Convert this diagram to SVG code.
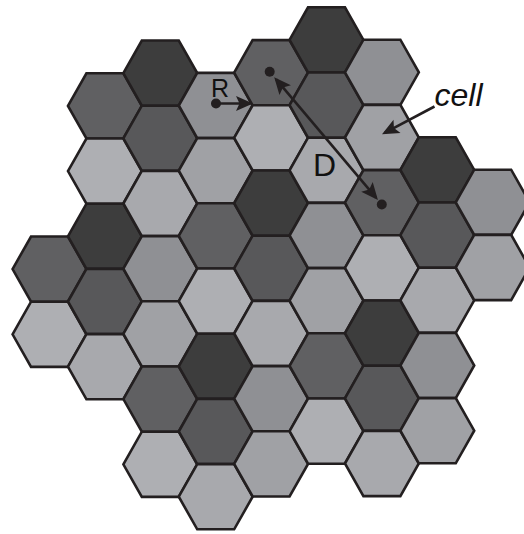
<svg xmlns="http://www.w3.org/2000/svg" xmlns:xlink="http://www.w3.org/1999/xlink" width="524" height="534" viewBox="0 0 524 534">
<style>
.hx{stroke:#231f20;stroke-width:2.6;stroke-linejoin:miter}
.c0{fill:#a8a9ad}.c1{fill:#606062}.c2{fill:#58585a}.c3{fill:#a0a1a5}.c4{fill:#3d3d3d}.c5{fill:#8f9094}.c6{fill:#aeafb3}
.ln{stroke:#231f20;stroke-width:2.6;fill:none}
.dot{fill:#231f20}
.lbl{font-family:"Liberation Sans",Arial,Helvetica,sans-serif;fill:#111}
</style>
<defs>
<polygon id="hex" points="-36.93,0 -18.47,-32.6 18.47,-32.6 36.93,0 18.47,32.6 -18.47,32.6"/>
<marker id="ah" viewBox="-20 -10 22 20" refX="-3" refY="0" markerWidth="22" markerHeight="20" markerUnits="userSpaceOnUse" orient="auto-start-reverse">
<path d="M0,0 L-17,-7.5 L-13.5,0 L-17,7.5 Z" fill="#231f20"/>
</marker>
</defs>
<g id="cells">
<use id="h0-6" href="#hex" class="hx c1" x="49.5" y="269.1"/>
<use id="h0-8" href="#hex" class="hx c6" x="49.5" y="334.3"/>
<use id="h1-1" href="#hex" class="hx c1" x="104.9" y="105.9"/>
<use id="h1-3" href="#hex" class="hx c6" x="104.9" y="171.1"/>
<use id="h1-5" href="#hex" class="hx c4" x="104.9" y="236.3"/>
<use id="h1-7" href="#hex" class="hx c2" x="104.9" y="301.5"/>
<use id="h1-9" href="#hex" class="hx c0" x="104.9" y="366.7"/>
<use id="h2-0" href="#hex" class="hx c4" x="160.3" y="73.1"/>
<use id="h2-2" href="#hex" class="hx c2" x="160.3" y="138.3"/>
<use id="h2-4" href="#hex" class="hx c0" x="160.3" y="203.5"/>
<use id="h2-6" href="#hex" class="hx c5" x="160.3" y="268.7"/>
<use id="h2-8" href="#hex" class="hx c3" x="160.3" y="333.9"/>
<use id="h2-10" href="#hex" class="hx c1" x="160.3" y="399.1"/>
<use id="h2-12" href="#hex" class="hx c6" x="160.3" y="464.3"/>
<use id="h3-1" href="#hex" class="hx c5" x="215.7" y="105.5"/>
<use id="h3-3" href="#hex" class="hx c3" x="215.7" y="170.7"/>
<use id="h3-5" href="#hex" class="hx c1" x="215.7" y="235.9"/>
<use id="h3-7" href="#hex" class="hx c6" x="215.7" y="301.1"/>
<use id="h3-9" href="#hex" class="hx c4" x="215.7" y="366.3"/>
<use id="h3-11" href="#hex" class="hx c2" x="215.7" y="431.5"/>
<use id="h3-13" href="#hex" class="hx c0" x="215.7" y="496.7"/>
<use id="h4-0" href="#hex" class="hx c1" x="271.1" y="72.7"/>
<use id="h4-2" href="#hex" class="hx c6" x="271.1" y="137.9"/>
<use id="h4-4" href="#hex" class="hx c4" x="271.1" y="203.1"/>
<use id="h4-6" href="#hex" class="hx c2" x="271.1" y="268.3"/>
<use id="h4-8" href="#hex" class="hx c0" x="271.1" y="333.5"/>
<use id="h4-10" href="#hex" class="hx c5" x="271.1" y="398.7"/>
<use id="h4-12" href="#hex" class="hx c3" x="271.1" y="463.9"/>
<use id="h5-m1" href="#hex" class="hx c4" x="326.5" y="39.9"/>
<use id="h5-1" href="#hex" class="hx c2" x="326.5" y="105.1"/>
<use id="h5-3" href="#hex" class="hx c0" x="326.5" y="170.3"/>
<use id="h5-5" href="#hex" class="hx c5" x="326.5" y="235.5"/>
<use id="h5-7" href="#hex" class="hx c3" x="326.5" y="300.7"/>
<use id="h5-9" href="#hex" class="hx c1" x="326.5" y="365.9"/>
<use id="h5-11" href="#hex" class="hx c6" x="326.5" y="431.1"/>
<use id="h6-0" href="#hex" class="hx c5" x="381.9" y="72.3"/>
<use id="h6-2" href="#hex" class="hx c3" x="381.9" y="137.5"/>
<use id="h6-4" href="#hex" class="hx c1" x="381.9" y="202.7"/>
<use id="h6-6" href="#hex" class="hx c6" x="381.9" y="267.9"/>
<use id="h6-8" href="#hex" class="hx c4" x="381.9" y="333.1"/>
<use id="h6-10" href="#hex" class="hx c2" x="381.9" y="398.3"/>
<use id="h6-12" href="#hex" class="hx c0" x="381.9" y="463.5"/>
<use id="h7-3" href="#hex" class="hx c4" x="437.3" y="169.9"/>
<use id="h7-5" href="#hex" class="hx c2" x="437.3" y="235.1"/>
<use id="h7-7" href="#hex" class="hx c0" x="437.3" y="300.3"/>
<use id="h7-9" href="#hex" class="hx c5" x="437.3" y="365.5"/>
<use id="h7-11" href="#hex" class="hx c3" x="437.3" y="430.7"/>
<use id="h8-4" href="#hex" class="hx c5" x="492.7" y="202.3"/>
<use id="h8-6" href="#hex" class="hx c3" x="492.7" y="267.5"/>
</g>
<g id="connectors">
<line class="ln" x1="216" y1="103.5" x2="250" y2="103.5" marker-end="url(#ah)"/>
<line class="ln" x1="276.15" y1="79.44" x2="376" y2="197.6" marker-start="url(#ah)" marker-end="url(#ah)"/>
<line class="ln" x1="434.5" y1="106.5" x2="384.65" y2="132.9" marker-end="url(#ah)"/>
</g>
<g id="dots">
<circle class="dot" cx="216" cy="103.5" r="5"/>
<circle class="dot" cx="269.7" cy="71.8" r="5"/>
<circle class="dot" cx="381.8" cy="204.5" r="5"/>
</g>
<g id="labels">
<text class="lbl" x="211" y="97" font-size="25">R</text>
<text class="lbl" x="313" y="176" font-size="32">D</text>
<text class="lbl" x="434.5" y="106" font-size="32" font-style="italic">cell</text>
</g>
</svg>
